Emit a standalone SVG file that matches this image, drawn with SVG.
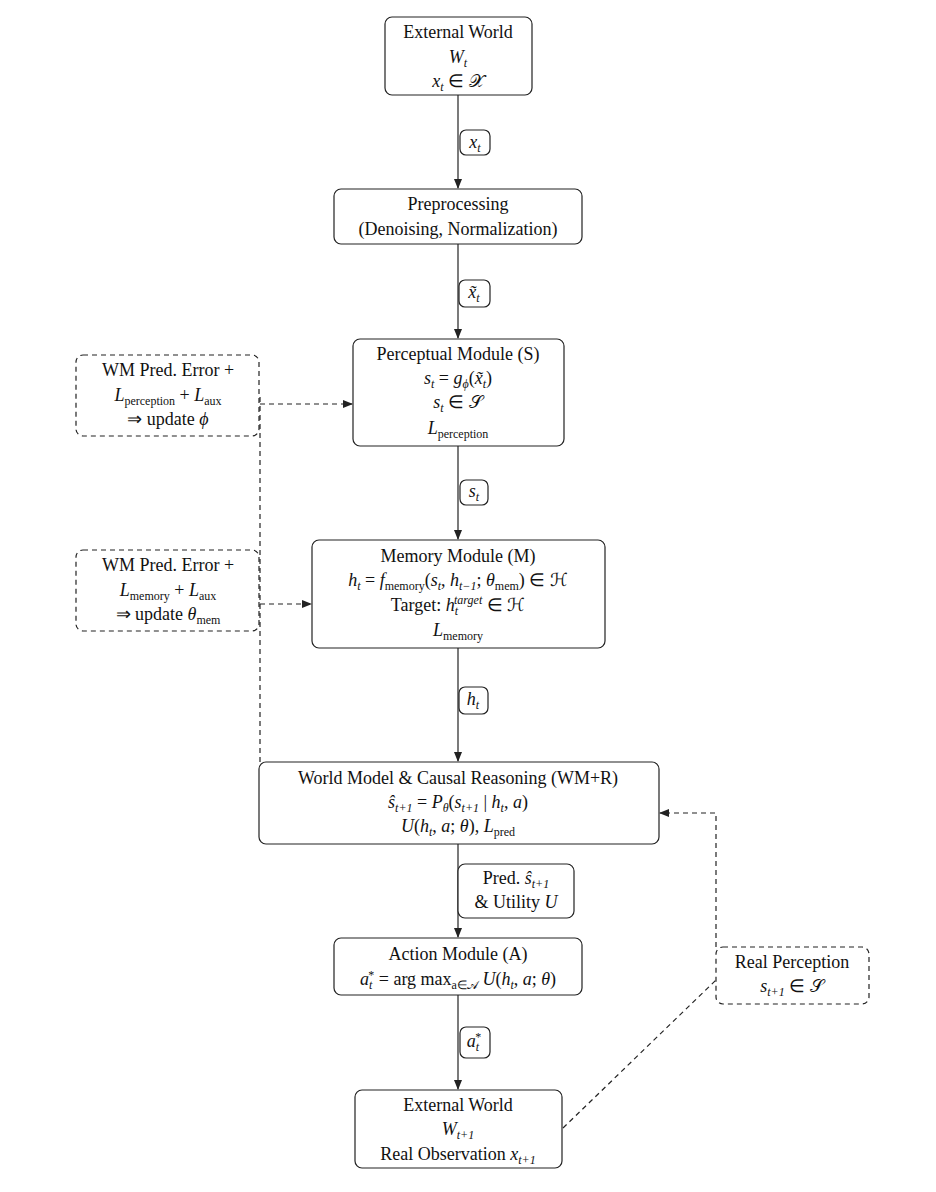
<svg xmlns="http://www.w3.org/2000/svg" width="936" height="1192" viewBox="0 0 936 1192">
<defs>
<marker id="ah" markerWidth="10" markerHeight="8" refX="9" refY="4" orient="auto" markerUnits="userSpaceOnUse"><path d="M0,0 L10,4 L0,8 Z" fill="#222"/></marker>
<style>
.n{fill:#fff;stroke:#222;stroke-width:1.2}
.d{fill:#fff;stroke:#222;stroke-width:1.2;stroke-dasharray:5,4}
text{font-family:"Liberation Serif","Times New Roman",serif;font-size:18px;fill:#111;text-anchor:middle}
.i{font-style:italic}
.s{font-size:12px}
.c{fill:none;stroke:#222;stroke-width:1.2}
.cd{fill:none;stroke:#222;stroke-width:1.2;stroke-dasharray:5,4}
</style>
</defs>
<rect width="936" height="1192" fill="#fff"/>
<g id="connectors">
<line class="c" x1="458" y1="95" x2="458" y2="188" marker-end="url(#ah)"/>
<line class="c" x1="458" y1="244" x2="458" y2="338" marker-end="url(#ah)"/>
<line class="c" x1="458" y1="446" x2="458" y2="539" marker-end="url(#ah)"/>
<line class="c" x1="458" y1="648" x2="458" y2="761" marker-end="url(#ah)"/>
<line class="c" x1="458" y1="844" x2="458" y2="937" marker-end="url(#ah)"/>
<line class="c" x1="458" y1="995" x2="458" y2="1089" marker-end="url(#ah)"/>
<line class="cd" x1="260" y1="762" x2="260" y2="395"/>
<line class="cd" x1="260" y1="404" x2="352" y2="404" marker-end="url(#ah)"/>
<line class="cd" x1="260" y1="604" x2="311" y2="604" marker-end="url(#ah)"/>
<line class="cd" x1="563" y1="1128" x2="716" y2="980"/>
<polyline class="cd" points="716,947 716,813 660,813" marker-end="url(#ah)"/>
</g>
<g id="n1"><rect class="n" x="385" y="17" width="147" height="78" rx="7"/>
<text x="458" y="38">External World</text>
<text x="458" y="63" class="i">W<tspan class="s" dy="4">t</tspan></text>
<text x="458" y="87"><tspan class="i">x</tspan><tspan class="s i" dy="4">t</tspan><tspan dy="-4"> ∈ 𝒳</tspan></text></g>
<g id="l1"><rect class="n" x="460" y="130" width="30" height="25" rx="6"/><text x="475" y="148" class="i">x<tspan class="s" dy="4">t</tspan></text></g>
<g id="n2"><rect class="n" x="334" y="189" width="248" height="55" rx="7"/>
<text x="458" y="210">Preprocessing</text>
<text x="458" y="235">(Denoising, Normalization)</text></g>
<g id="l2"><rect class="n" x="459" y="280" width="31" height="27" rx="6"/><text x="474" y="298" class="i">x̃<tspan class="s" dy="4">t</tspan></text></g>
<g id="n3"><rect class="n" x="353" y="339" width="211" height="107" rx="7"/>
<text x="458" y="360">Perceptual Module (S)</text>
<text x="458" y="384"><tspan class="i">s</tspan><tspan class="s i" dy="4">t</tspan><tspan dy="-4"> = </tspan><tspan class="i">g</tspan><tspan class="s i" dy="4">ϕ</tspan><tspan dy="-4">(</tspan><tspan class="i">x̃</tspan><tspan class="s i" dy="4">t</tspan><tspan dy="-4">)</tspan></text>
<text x="458" y="408"><tspan class="i">s</tspan><tspan class="s i" dy="4">t</tspan><tspan dy="-4"> ∈ 𝒮</tspan></text>
<text x="458" y="434"><tspan class="i">L</tspan><tspan class="s" dy="4">perception</tspan></text></g>
<g id="l3"><rect class="n" x="460" y="480" width="28" height="25" rx="6"/><text x="474" y="497" class="i">s<tspan class="s" dy="4">t</tspan></text></g>
<g id="n4"><rect class="n" x="312" y="540" width="293" height="108" rx="7"/>
<text x="458" y="562">Memory Module (M)</text>
<text x="458" y="586"><tspan class="i">h</tspan><tspan class="s i" dy="4">t</tspan><tspan dy="-4"> = </tspan><tspan class="i">f</tspan><tspan class="s" dy="4">memory</tspan><tspan dy="-4">(</tspan><tspan class="i">s</tspan><tspan class="s i" dy="4">t</tspan><tspan dy="-4">, </tspan><tspan class="i">h</tspan><tspan class="s i" dy="4">t−1</tspan><tspan dy="-4">; </tspan><tspan class="i">θ</tspan><tspan class="s" dy="4">mem</tspan><tspan dy="-4">) ∈ ℋ</tspan></text>
<text x="458" y="611">Target: <tspan class="i">h</tspan><tspan class="s i" dy="4">t</tspan><tspan class="s i" dx="-4" dy="-11">target</tspan><tspan dy="7"> ∈ ℋ</tspan></text>
<text x="458" y="636"><tspan class="i">L</tspan><tspan class="s" dy="4">memory</tspan></text></g>
<g id="l4"><rect class="n" x="459" y="687" width="29" height="27" rx="6"/><text x="473" y="705" class="i">h<tspan class="s" dy="4">t</tspan></text></g>
<g id="n5"><rect class="n" x="259" y="762" width="400" height="82" rx="7"/>
<text x="458" y="784">World Model &amp; Causal Reasoning (WM+R)</text>
<text x="458" y="808"><tspan class="i">ŝ</tspan><tspan class="s i" dy="4">t+1</tspan><tspan dy="-4"> = </tspan><tspan class="i">P</tspan><tspan class="s i" dy="4">θ</tspan><tspan dy="-4">(</tspan><tspan class="i">s</tspan><tspan class="s i" dy="4">t+1</tspan><tspan dy="-4"> | </tspan><tspan class="i">h</tspan><tspan class="s i" dy="4">t</tspan><tspan dy="-4">, </tspan><tspan class="i">a</tspan><tspan>)</tspan></text>
<text x="458" y="832"><tspan class="i">U</tspan><tspan>(</tspan><tspan class="i">h</tspan><tspan class="s i" dy="4">t</tspan><tspan dy="-4">, </tspan><tspan class="i">a</tspan><tspan>; </tspan><tspan class="i">θ</tspan><tspan>), </tspan><tspan class="i">L</tspan><tspan class="s" dy="4">pred</tspan></text></g>
<g id="l5"><rect class="n" x="458" y="864" width="116" height="54" rx="7"/>
<text x="516" y="884">Pred. <tspan class="i">ŝ</tspan><tspan class="s i" dy="4">t+1</tspan></text>
<text x="516" y="908">&amp; Utility <tspan class="i">U</tspan></text></g>
<g id="n6"><rect class="n" x="334" y="938" width="248" height="57" rx="7"/>
<text x="458" y="960">Action Module (A)</text>
<text x="458" y="985"><tspan class="i">a</tspan><tspan class="s i" dy="4">t</tspan><tspan class="s" dx="-4" dy="-10">*</tspan><tspan dy="6"> = arg max</tspan><tspan class="s" dy="4">a∈𝒜</tspan><tspan class="i" dy="-4"> U</tspan><tspan>(</tspan><tspan class="i">h</tspan><tspan class="s i" dy="4">t</tspan><tspan dy="-4">, </tspan><tspan class="i">a</tspan><tspan>; </tspan><tspan class="i">θ</tspan><tspan>)</tspan></text></g>
<g id="l6"><rect class="n" x="460" y="1027" width="30" height="31" rx="6"/><text x="474" y="1047"><tspan class="i">a</tspan><tspan class="s i" dy="4">t</tspan><tspan class="s" dx="-4" dy="-10">*</tspan></text></g>
<g id="n7"><rect class="n" x="355" y="1090" width="207" height="78" rx="7"/>
<text x="458" y="1111">External World</text>
<text x="458" y="1135" class="i">W<tspan class="s" dy="4">t+1</tspan></text>
<text x="458" y="1160">Real Observation <tspan class="i">x</tspan><tspan class="s i" dy="4">t+1</tspan></text></g>
<g id="n8"><rect class="d" x="716" y="947" width="153" height="57" rx="7"/>
<text x="792" y="968">Real Perception</text>
<text x="792" y="992"><tspan class="i">s</tspan><tspan class="s i" dy="4">t+1</tspan><tspan dy="-4"> ∈ 𝒮</tspan></text></g>
<g id="n9"><rect class="d" x="76" y="355" width="183" height="81" rx="7"/>
<text x="168" y="376">WM Pred. Error +</text>
<text x="168" y="401"><tspan class="i">L</tspan><tspan class="s" dy="4">perception</tspan><tspan dy="-4"> + </tspan><tspan class="i">L</tspan><tspan class="s" dy="4">aux</tspan></text>
<text x="168" y="425">⇒ update <tspan class="i">ϕ</tspan></text></g>
<g id="n10"><rect class="d" x="76" y="550" width="183" height="81" rx="7"/>
<text x="168" y="571">WM Pred. Error +</text>
<text x="168" y="596"><tspan class="i">L</tspan><tspan class="s" dy="4">memory</tspan><tspan dy="-4"> + </tspan><tspan class="i">L</tspan><tspan class="s" dy="4">aux</tspan></text>
<text x="168" y="620">⇒ update <tspan class="i">θ</tspan><tspan class="s" dy="4">mem</tspan></text></g>
</svg>
